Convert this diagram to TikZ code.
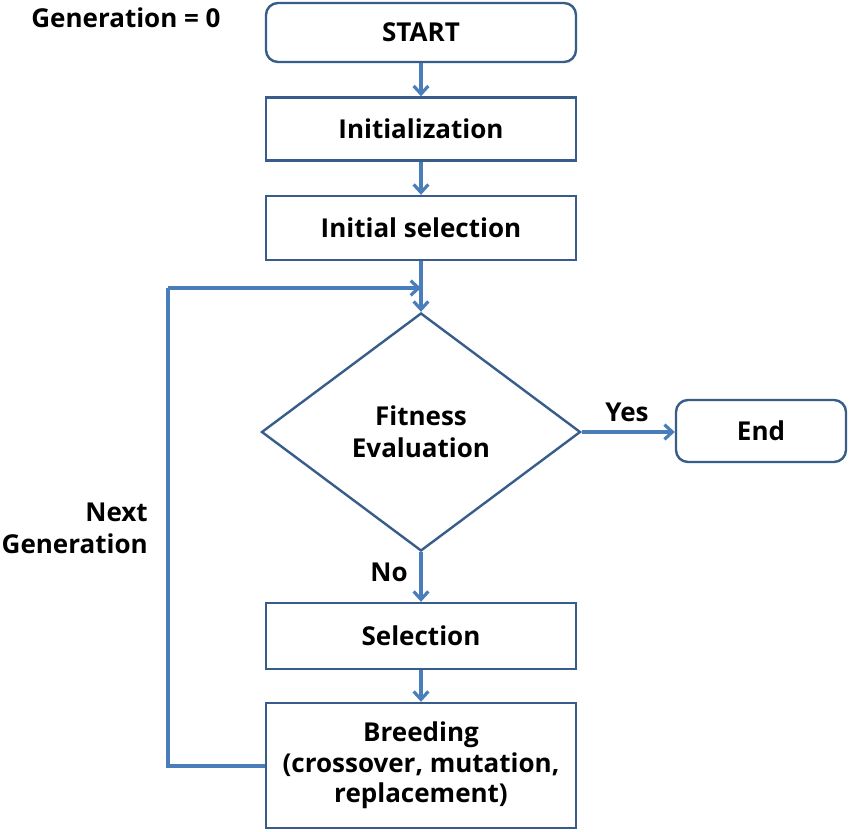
\documentclass[tikz,border=0pt]{standalone}
\usepackage{fontspec}
\setmainfont{Open Sans}
\usetikzlibrary{arrows.meta,shapes.geometric}
\definecolor{boxc}{HTML}{385D8A}
\definecolor{arrc}{HTML}{4A7EBB}
\begin{document}
\begin{tikzpicture}[x=0.75pt,y=-0.75pt,
  font=\fontsize{19.5}{24}\selectfont\bfseries,
  box/.style={draw=boxc,line width=1.8pt,fill=white},
  rbox/.style={box,rounded corners=9pt},
  conn/.style={draw=arrc,line width=2.6pt,-{Straight Barb[length=6pt,width=11pt,line width=2.4pt]}},
  loopline/.style={draw=arrc,line width=2.6pt},
  lbl/.style={inner sep=0pt,text=black}]
\useasboundingbox (0,0) rectangle (850,832);
% boxes
\node[rbox,minimum width=310*0.75pt,minimum height=59*0.75pt] (start) at (421,32.5) {START};
\node[box,minimum width=310*0.75pt,minimum height=63*0.75pt] (init) at (421,129) {Initialization};
\node[box,minimum width=310*0.75pt,minimum height=64*0.75pt] (isel) at (421,228) {Initial selection};
\node[draw=boxc,line width=1.8pt,diamond,minimum width=319*0.75pt,minimum height=238*0.75pt,inner sep=0pt,aspect=1.34,align=center] (fit) at (421,432) {Fitness\\Evaluation};
\node[rbox,minimum width=170*0.75pt,minimum height=62*0.75pt] (end) at (761,431) {End};
\node[box,minimum width=310*0.75pt,minimum height=66*0.75pt] (sel) at (421,636) {Selection};
\node[box,minimum width=310*0.75pt,minimum height=125*0.75pt,align=center] (breed) at (421,765.5) {Breeding\\[-1pt](crossover, mutation,\\[-1pt]replacement)};
% labels
\node[lbl] (gen0) at (126,18) {Generation = 0};
\node[lbl] (yes) at (627,412) {Yes};
\node[lbl] (no) at (389,572) {No};
\node[lbl,align=right,anchor=east] (next) at (148,528) {Next\\Generation};
% connectors
\coordinate (lp1) at (168,766);
\coordinate (lp2) at (168,288);
\coordinate (lp3) at (421,288);
\draw[conn] (start) -- (init);
\draw[conn] (init) -- (isel);
\draw[conn] (isel) -- (fit.north);
\draw[conn] (fit.east) -- (end.west |- fit.east);
\draw[conn] (fit.south) -- (sel.north);
\draw[conn] (sel) -- (breed);
\draw[loopline] (breed.west |- lp1) -- (lp1) -- (lp2);
\draw[conn] (lp2) -- (lp3);
\end{tikzpicture}
\end{document}
